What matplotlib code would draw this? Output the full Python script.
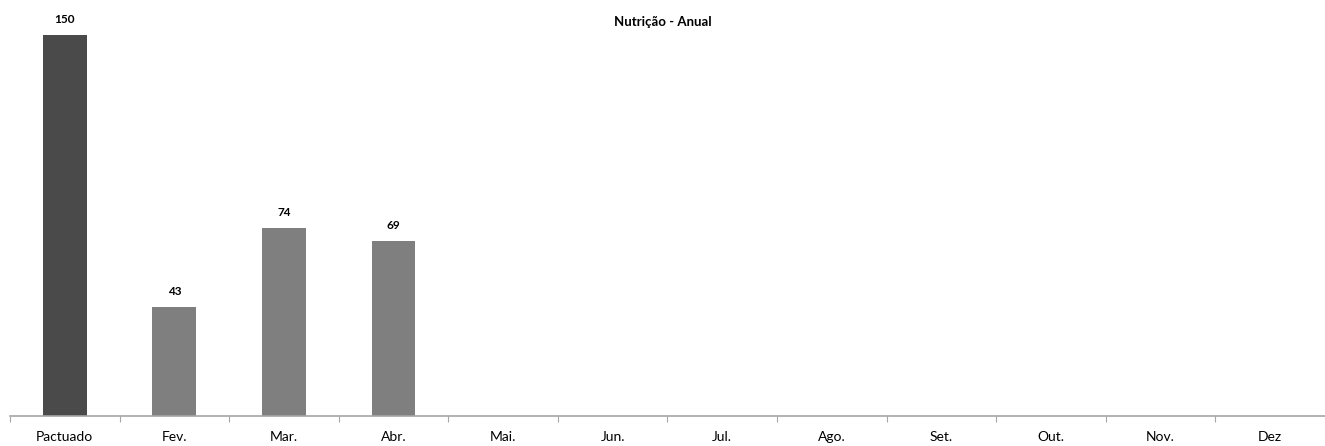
import matplotlib.pyplot as plt
import numpy as np

plt.rcParams['font.family'] = ['Lato', 'DejaVu Sans']

# Data
categories = ['Pactuado', 'Fev.', 'Mar.', 'Abr.', 'Mai.', 'Jun.', 'Jul.', 'Ago.', 'Set.', 'Out.', 'Nov.', 'Dez']
values = [150, 43, 74, 69, None, None, None, None, None, None, None, None]
colors = ['#4a4a4a'] + ['#7f7f7f'] * 11

fig = plt.figure(figsize=(13.25, 4.46), dpi=100)
ax = fig.add_axes([10 / 1325, 30 / 446, 1 - 10 / 1325, 416 / 446])

x = np.arange(len(categories))
for xi, v, c in zip(x, values, colors):
    if v is None:
        continue
    ax.bar(xi, v, width=0.4, color=c, zorder=2)
    ax.text(xi, v + 4, str(v), ha='center', va='bottom', fontsize=8.5, fontweight='bold')

ax.set_xlim(-0.5, len(categories) - 0.5)
ax.set_ylim(0, 150 * 416 / 381)

for s in ['top', 'right', 'left']:
    ax.spines[s].set_visible(False)
ax.spines['bottom'].set_color('#a6a6a6')
ax.spines['bottom'].set_linewidth(1.2)
ax.set_yticks([])

# ticks at category boundaries, labels at centers
ax.set_xticks(np.arange(-0.5, len(categories), 1.0))
ax.set_xticklabels([])
ax.set_xticks(x, minor=True)
ax.set_xticklabels(categories, minor=True, fontsize=10)
ax.tick_params(axis='x', which='major', length=4, color='#a6a6a6', direction='out')
ax.tick_params(axis='x', which='minor', length=0, pad=11)

fig.text(663 / 1325, 1 - 22 / 446, 'Nutrição - Anual', ha='center', va='center',
         fontsize=9.5, fontweight='bold')

fig.savefig('out.png', dpi=100)
